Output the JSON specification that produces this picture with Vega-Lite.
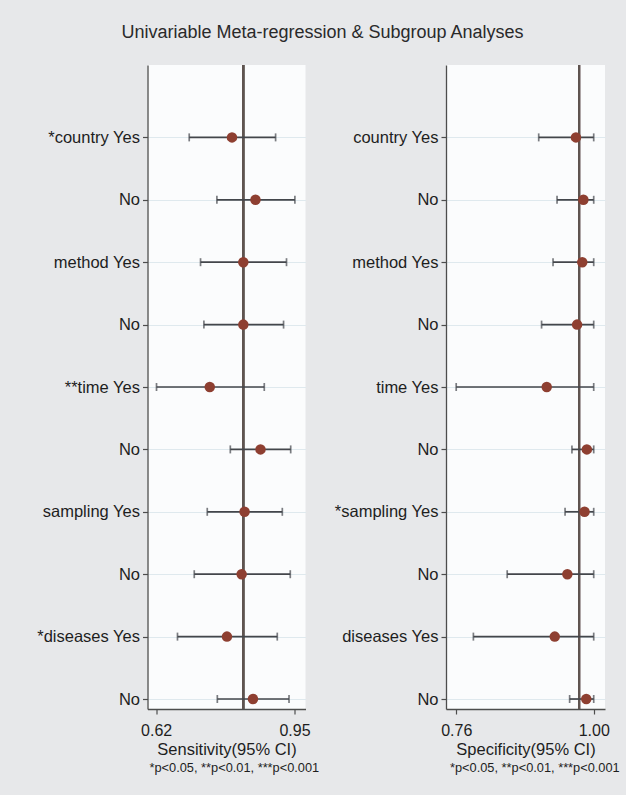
{
  "$schema": "https://vega.github.io/schema/vega-lite/v6.json",
  "autosize": {"type": "pad"},
  "padding": {"left": 35.5, "top": 24, "right": 10, "bottom": 30},
  "background": "#e7e8ea",
  "bounds": "flush",
  "spacing": 140.5,
  "title": {
    "text": "Univariable Meta-regression & Subgroup Analyses",
    "fontSize": 18,
    "fontWeight": "normal",
    "font": "Liberation Sans",
    "color": "#2a2a2a",
    "anchor": "middle",
    "frame": "group",
    "dx": 175,
    "offset": 22
  },
  "datasets": {
    "sens": [
      {"key": "*country Yes", "est": 0.801, "lo": 0.699, "hi": 0.905},
      {"key": "No|country", "est": 0.857, "lo": 0.765, "hi": 0.951},
      {"key": "method Yes", "est": 0.828, "lo": 0.726, "hi": 0.931},
      {"key": "No|method", "est": 0.828, "lo": 0.734, "hi": 0.924},
      {"key": "**time Yes", "est": 0.748, "lo": 0.621, "hi": 0.878},
      {"key": "No|time", "est": 0.869, "lo": 0.797, "hi": 0.941},
      {"key": "sampling Yes", "est": 0.831, "lo": 0.742, "hi": 0.921},
      {"key": "No|sampling", "est": 0.824, "lo": 0.711, "hi": 0.94},
      {"key": "*diseases Yes", "est": 0.789, "lo": 0.671, "hi": 0.909},
      {"key": "No|diseases", "est": 0.851, "lo": 0.766, "hi": 0.937}
    ],
    "spec": [
      {"key": "country Yes", "est": 0.969, "lo": 0.904, "hi": 1.0},
      {"key": "No|country", "est": 0.982, "lo": 0.936, "hi": 1.0},
      {"key": "method Yes", "est": 0.98, "lo": 0.929, "hi": 1.0},
      {"key": "No|method", "est": 0.971, "lo": 0.909, "hi": 1.0},
      {"key": "time Yes", "est": 0.918, "lo": 0.76, "hi": 1.0},
      {"key": "No|time", "est": 0.988, "lo": 0.962, "hi": 1.0},
      {"key": "*sampling Yes", "est": 0.984, "lo": 0.95, "hi": 1.0},
      {"key": "No|sampling", "est": 0.954, "lo": 0.849, "hi": 1.0},
      {"key": "diseases Yes", "est": 0.932, "lo": 0.79, "hi": 1.0},
      {"key": "No|diseases", "est": 0.987, "lo": 0.958, "hi": 1.0}
    ]
  },
  "config": {
    "font": "Liberation Sans",
    "view": {"fill": "#fbfcfd", "stroke": null},
    "axis": {
      "labelFont": "Liberation Sans",
      "titleFont": "Liberation Sans",
      "labelColor": "#1e1e1e",
      "titleColor": "#1e1e1e",
      "domainColor": "#4d4d4d",
      "domainWidth": 1.3,
      "tickColor": "#4d4d4d",
      "tickWidth": 1.2,
      "tickSize": 5
    },
    "title": {"font": "Liberation Sans"}
  },
  "hconcat": [
    {
      "width": 158,
      "height": 644,
      "data": {"name": "sens"},
      "title": {
        "text": "*p<0.05, **p<0.01, ***p<0.001",
        "orient": "bottom",
        "anchor": "start",
        "frame": "group",
        "fontSize": 12.8,
        "fontWeight": "normal",
        "color": "#1e1e1e",
        "offset": 4,
        "dx": 2
      },
      "encoding": {
        "y": {
          "field": "key",
          "type": "nominal",
          "sort": null,
          "scale": {
            "type": "point",
            "padding": 0.16,
            "domain": [" ", "*country Yes", "No|country", "method Yes", "No|method", "**time Yes", "No|time", "sampling Yes", "No|sampling", "*diseases Yes", "No|diseases"]
          },
          "axis": {
            "title": null,
            "values": ["*country Yes", "No|country", "method Yes", "No|method", "**time Yes", "No|time", "sampling Yes", "No|sampling", "*diseases Yes", "No|diseases"],
            "labelFontSize": 16.5,
            "labelPadding": 3,
            "grid": true,
            "gridColor": "#dfe9ee",
            "gridWidth": 1,
            "labelExpr": "split(datum.value, '|')[0]"
          }
        }
      },
      "layer": [
        {
          "mark": {"type": "rule", "color": "#5f5450", "strokeWidth": 1.7},
          "encoding": {"x": {"datum": 0.828, "type": "quantitative"}, "y": null}
        },
        {
          "mark": {"type": "rule", "color": "#43464b", "strokeWidth": 1.7},
          "encoding": {
            "x": {
              "field": "lo",
              "type": "quantitative",
              "scale": {"domain": [0.5995, 0.9763], "nice": false, "zero": false},
              "axis": {
                "values": [0.62, 0.95],
                "format": ".2f",
                "grid": false,
                "labelFontSize": 16,
                "labelPadding": 8,
                "title": "Sensitivity(95% CI)",
                "titleFontSize": 16.5,
                "titleFontWeight": "normal",
                "titlePadding": 3
              }
            },
            "x2": {"field": "hi"}
          }
        },
        {
          "mark": {"type": "tick", "color": "#43464b", "thickness": 1.7, "size": 8, "orient": "vertical"},
          "encoding": {"x": {"field": "lo", "type": "quantitative"}}
        },
        {
          "mark": {"type": "tick", "color": "#43464b", "thickness": 1.7, "size": 8, "orient": "vertical"},
          "encoding": {"x": {"field": "hi", "type": "quantitative"}}
        },
        {
          "mark": {"type": "circle", "color": "#8e3f31", "opacity": 1, "size": 110},
          "encoding": {"x": {"field": "est", "type": "quantitative"}}
        }
      ]
    },
    {
      "width": 159,
      "height": 644,
      "data": {"name": "spec"},
      "title": {
        "text": "*p<0.05, **p<0.01, ***p<0.001",
        "orient": "bottom",
        "anchor": "start",
        "frame": "group",
        "fontSize": 12.8,
        "fontWeight": "normal",
        "color": "#1e1e1e",
        "offset": 4,
        "dx": 4
      },
      "encoding": {
        "y": {
          "field": "key",
          "type": "nominal",
          "sort": null,
          "scale": {
            "type": "point",
            "padding": 0.16,
            "domain": [" ", "country Yes", "No|country", "method Yes", "No|method", "time Yes", "No|time", "*sampling Yes", "No|sampling", "diseases Yes", "No|diseases"]
          },
          "axis": {
            "title": null,
            "values": ["country Yes", "No|country", "method Yes", "No|method", "time Yes", "No|time", "*sampling Yes", "No|sampling", "diseases Yes", "No|diseases"],
            "labelFontSize": 16.5,
            "labelPadding": 3,
            "grid": true,
            "gridColor": "#dfe9ee",
            "gridWidth": 1,
            "labelExpr": "split(datum.value, '|')[0]"
          }
        }
      },
      "layer": [
        {
          "mark": {"type": "rule", "color": "#5f5450", "strokeWidth": 1.7},
          "encoding": {"x": {"datum": 0.9747, "type": "quantitative"}, "y": null}
        },
        {
          "mark": {"type": "rule", "color": "#43464b", "strokeWidth": 1.7},
          "encoding": {
            "x": {
              "field": "lo",
              "type": "quantitative",
              "scale": {"domain": [0.7422, 1.0197], "nice": false, "zero": false},
              "axis": {
                "values": [0.76, 1.0],
                "format": ".2f",
                "grid": false,
                "labelFontSize": 16,
                "labelPadding": 8,
                "title": "Specificity(95% CI)",
                "titleFontSize": 16.5,
                "titleFontWeight": "normal",
                "titlePadding": 3
              }
            },
            "x2": {"field": "hi"}
          }
        },
        {
          "mark": {"type": "tick", "color": "#43464b", "thickness": 1.7, "size": 8, "orient": "vertical"},
          "encoding": {"x": {"field": "lo", "type": "quantitative"}}
        },
        {
          "mark": {"type": "tick", "color": "#43464b", "thickness": 1.7, "size": 8, "orient": "vertical"},
          "encoding": {"x": {"field": "hi", "type": "quantitative"}}
        },
        {
          "mark": {"type": "circle", "color": "#8e3f31", "opacity": 1, "size": 110},
          "encoding": {"x": {"field": "est", "type": "quantitative"}}
        }
      ]
    }
  ]
}
